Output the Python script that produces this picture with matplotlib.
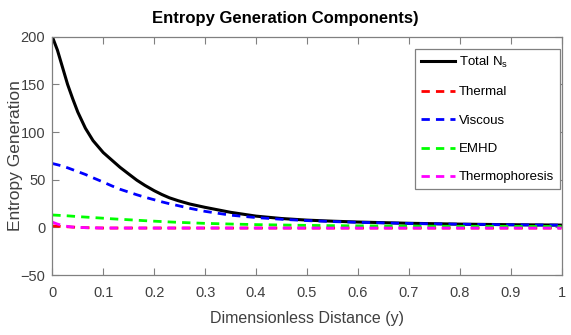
import numpy as np
import matplotlib
matplotlib.use("Agg")
import matplotlib.pyplot as plt

# values
y_pos = [0, 0.01, 0.02, 0.03, 0.04, 0.05, 0.065, 0.08, 0.1, 0.117,
         0.133, 0.15, 0.166, 0.182, 0.2, 0.215, 0.23, 0.247, 0.27, 0.3,
         0.35, 0.4, 0.45, 0.5, 0.55, 0.6, 0.7, 0.8, 0.9, 1.0]
total_ns = [200, 186, 168, 150, 135, 121, 104, 91, 78.5, 70.5,
            63, 56, 49.5, 44, 38.5, 34.5, 31, 28, 24.5, 21,
            15.8, 11.8, 9.3, 7.6, 6.5, 5.6, 4.3, 3.4, 2.8, 2.4]
thermal = [1.5, 1.2, 0.9, 0.6, 0.3, 0, -0.3, -0.5, -0.7, -0.7,
           -0.7, -0.7, -0.7, -0.7, -0.7, -0.7, -0.7, -0.7, -0.7, -0.7,
           -0.7, -0.7, -0.7, -0.7, -0.7, -0.7, -0.7, -0.7, -0.7, -0.7]
viscous = [67, 65.7, 64.3, 62.5, 60.5, 58.5, 55.5, 52, 47.5, 43.5,
           40, 37, 34.2, 31.6, 29, 26.8, 24.8, 22.8, 20, 16.8,
           12.8, 10.3, 8.5, 7.1, 6.1, 5.3, 4.1, 3.3, 2.7, 2.3]
emhd = [13, 12.7, 12.4, 12.1, 11.7, 11.3, 10.8, 10.3, 9.6, 9.0,
        8.5, 8.0, 7.5, 7.0, 6.5, 6.1, 5.7, 5.3, 4.8, 4.2,
        3.5, 2.9, 2.5, 2.1, 1.8, 1.6, 1.3, 1.1, 1.0, 0.9]
thermophoresis = [5.5, 3.5, 2, 1, 0.3, 0, -0.3, -0.5, -0.7, -0.7,
                  -0.7, -0.7, -0.7, -0.7, -0.7, -0.7, -0.7, -0.7, -0.7, -0.7,
                  -0.7, -0.7, -0.7, -0.7, -0.7, -0.7, -0.7, -0.7, -0.7, -0.7]

x_ticks = np.arange(0, 1.01, 0.1)
x_tick_labels = ["0", "0.1", "0.2", "0.3", "0.4", "0.5", "0.6", "0.7", "0.8", "0.9", "1"]
y_ticks = [-50, 0, 50, 100, 150, 200]

plt.rcParams["font.family"] = ["Liberation Sans", "DejaVu Sans"]
plt.rcParams["mathtext.fontset"] = "custom"
plt.rcParams["mathtext.rm"] = "Liberation Sans"
plt.rcParams["mathtext.it"] = "Liberation Sans"

fig = plt.figure(figsize=(5.71, 3.35), dpi=100)
ax = fig.add_axes([0.0916, 0.179, 0.8918, 0.7114])

dash = (0, (3, 2.2))
ax.plot(y_pos, total_ns, color="black", lw=2.2, label=r"Total N$_\mathrm{s}$")
ax.plot(y_pos, thermal, color="red", lw=2, ls=dash, label="Thermal")
ax.plot(y_pos, viscous, color="blue", lw=2, ls=dash, label="Viscous")
ax.plot(y_pos, emhd, color="#00ff00", lw=2, ls=dash, label="EMHD")
ax.plot(y_pos, thermophoresis, color="magenta", lw=2, ls=dash, label="Thermophoresis")

ax.set_xlim(0, 1)
ax.set_ylim(-50, 200)
ax.set_xticks(x_ticks)
ax.set_xticklabels(x_tick_labels)
ax.set_yticks(y_ticks)

gray = "#404040"
for s in ax.spines.values():
    s.set_color("#808080")
    s.set_linewidth(0.9)
ax.tick_params(direction="in", top=True, right=True, length=5, width=0.8,
               colors="#808080", labelcolor=gray, labelsize=10.5)
ax.tick_params(axis="x", pad=8)
ax.tick_params(axis="y", pad=5)

ax.set_xlabel("Dimensionless Distance (y)", fontsize=11.5, color=gray, labelpad=8)
ax.set_ylabel("Entropy Generation", fontsize=12.5, color=gray)
ax.yaxis.set_label_coords(-0.0575, 0.5)
ax.set_title("Entropy Generation Components)", fontsize=12, fontweight="bold",
             pad=10, x=0.457)

leg = ax.legend(loc="upper right", bbox_to_anchor=(0.997, 0.948), fontsize=9.5,
                frameon=True, fancybox=False, framealpha=1, edgecolor="#808080",
                handlelength=2.6, handletextpad=0.3, labelspacing=1.22, borderpad=0.45,
                borderaxespad=0)
leg.get_frame().set_linewidth(0.9)

fig.savefig("out.png", dpi=100)
